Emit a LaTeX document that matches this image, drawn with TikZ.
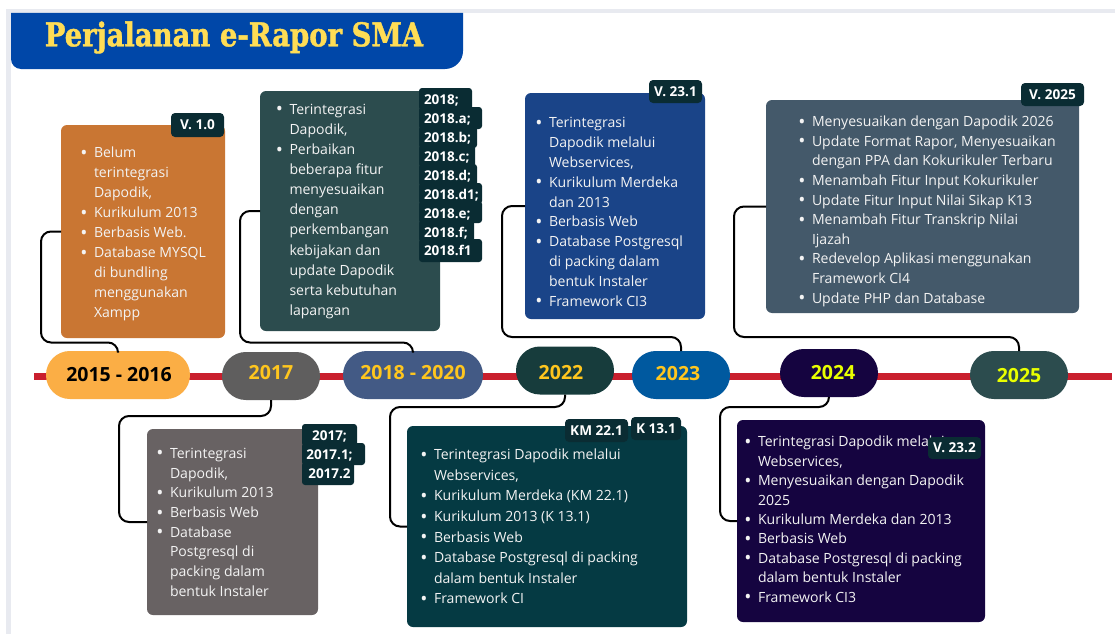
\documentclass[tikz,border=0pt]{standalone}
\usepackage{fontspec}
\setmainfont{Open Sans}
\newfontfamily\titlefont[FakeStretch=0.84,FakeBold=1.2]{DejaVu Serif Bold}
\definecolor{cbadge}{HTML}{0A2C33}
\definecolor{cbody}{HTML}{F3F3F3}
\definecolor{cred}{HTML}{C91F2E}
\definecolor{cstrip}{HTML}{E8EAF0}
\definecolor{cgold}{HTML}{FFC61E}
\definecolor{clime}{HTML}{E8FF00}
\definecolor{ctitle}{HTML}{0047A8}
\definecolor{ctitletxt}{HTML}{FFDD55}
\definecolor{corange}{HTML}{C97633}
\definecolor{cforest}{HTML}{2C4C4E}
\definecolor{cblue}{HTML}{1A4488}
\definecolor{cslate}{HTML}{44596A}
\definecolor{cgrey}{HTML}{686263}
\definecolor{cteal}{HTML}{053A43}
\definecolor{cpurple}{HTML}{150440}
\definecolor{pa}{HTML}{FBAE45}
\definecolor{pb}{HTML}{5F5E5E}
\definecolor{pc}{HTML}{435A85}
\definecolor{pd}{HTML}{173C3C}
\definecolor{pe}{HTML}{00599F}
\newcommand{\fs}[1]{\fontsize{14.05}{#1}\selectfont}
\tikzset{
  boxbody/.style={rounded corners=6pt,draw=none,inner sep=0pt,outer sep=0pt},
  body/.style={anchor=north west,align=left,inner sep=0pt,outer sep=0pt,text=cbody,font=\fs{#1}},
  pill/.style={rounded corners=23.9pt,draw=none,inner sep=0pt,outer sep=0pt,minimum height=48pt},
  ptext/.style={font=\fontsize{19.5}{22}\selectfont\bfseries,inner sep=0pt},
  badge/.style={fill=cbadge,rounded corners=4pt,inner sep=0pt,outer sep=0pt,text=white,font=\fontsize{13.6}{15}\selectfont\bfseries},
  rowtext/.style={inner sep=0pt,outer sep=0pt,text=white,font=\fontsize{13.5}{18.9}\selectfont\bfseries},
  conn/.style={draw=black,line width=2pt,rounded corners=10pt},
}
\newcommand{\itm}{\leavevmode\llap{\smash{\raisebox{-1.6pt}{\fontsize{19}{19}\selectfont\textbullet}}\hspace{6.5pt}}}
\newcommand{\mkbox}[6]{\node[boxbody,fill=#2,minimum width=#5 pt,minimum height=#6 pt] (#1) at (#3,#4) {};}
\newcommand{\mkpill}[9]{\node[pill,fill=#2,minimum width=#5 pt] (#1) at (#3,#4) {};
  \node[ptext,text=#6] (#1t) at (#7,#8) {#9};}
\begin{document}
\begin{tikzpicture}[x=1pt,y=-1pt]
\useasboundingbox (0,0) rectangle (1115,634);
\fill[white] (0,0) rectangle (1115,634);
\fill[cstrip] (6,9) rectangle (1115,13);
\fill[cstrip] (6,9) rectangle (11,634);
% title
\fill[ctitle] (11,13) -- (463,13) -- (463,51) arc[start angle=0,end angle=90,radius=18] -- (21,69) arc[start angle=90,end angle=180,radius=10] -- cycle;
\node[inner sep=0pt,text=ctitletxt,font=\titlefont\fontsize{32.7}{36}\selectfont] (title) at (234,37.5) {Perjalanan e-Rapor SMA};
% red line
\fill[cred] (34,372.5) rectangle (1112,379.5);
% boxes
\mkbox{b15}{corange}{143}{231.5}{164}{213}
\mkbox{b18}{cforest}{350}{211}{180}{240}
\mkbox{b23}{cblue}{615}{206}{180}{226}
\mkbox{b25}{cslate}{922.5}{206.5}{313}{213}
\mkbox{b17}{cgrey}{232.5}{522}{171}{186}
\mkbox{b22}{cteal}{547}{526.5}{280}{201}
\mkbox{b24}{cpurple}{861}{521}{248}{202}
% pills
\mkpill{p15}{pa}{118}{375}{144}{black}{119}{375}{2015 - 2016}
\mkpill{p17}{pb}{271}{376}{98}{cgold}{271}{373}{2017}
\mkpill{p18}{pc}{413}{375}{140}{cgold}{413}{373}{2018 - 2020}
\mkpill{p22}{pd}{565}{370.5}{98}{cgold}{561}{373}{2022}
\mkpill{p23}{pe}{681}{375}{98}{cgold}{678}{374}{2023}
\mkpill{p24}{cpurple}{829}{373}{98}{clime}{833}{373}{2024}
\mkpill{p25}{cforest}{1019}{375}{98}{clime}{1019}{376}{2025}
% connectors
\draw[conn] (p15.north) |- (41,342.5) |- (b15.west);
\draw[conn] (p17.south) |- (119,416) |- (b17.west);
\draw[conn] (p18.north) |- (240,342.5) |- (b18.west);
\draw[conn] (p22.south) |- (390,407) |- (b22.west);
\draw[conn] (p23.north) |- (502,337) |- (b23.west);
\draw[conn] (p24.south) |- (720,407) |- (b24.west);
\draw[conn] (p25.north) |- (734,337) |- (b25.west);
% texts
\node[body=20] (t15) at (94,147) {\itm Belum\\terintegrasi\\Dapodik,\\\itm Kurikulum 2013\\\itm Berbasis Web.\\\itm Database MYSQL\\di bundling\\menggunakan\\Xampp};
\node[body=20.1] (t18) at (289.5,104) {\itm Terintegrasi\\Dapodik,\\\itm Perbaikan\\beberapa fitur\\menyesuaikan\\dengan\\perkembangan\\kebijakan dan\\update Dapodik\\serta kebutuhan\\lapangan};
\node[body=19.8] (t23) at (549,117.5) {\itm Terintegrasi\\Dapodik melalui\\Webservices,\\\itm Kurikulum Merdeka\\dan 2013\\\itm Berbasis Web\\\itm Database Postgresql\\di packing dalam\\bentuk Instaler\\\itm Framework CI3};
\node[body=19.6] (t25) at (812,116) {\itm Menyesuaikan dengan Dapodik 2026\\\itm Update Format Rapor, Menyesuaikan\\dengan PPA dan Kokurikuler Terbaru\\\itm Menambah Fitur Input Kokurikuler\\\itm Update Fitur Input Nilai Sikap K13\\\itm Menambah Fitur Transkrip Nilai\\Ijazah\\\itm Redevelop Aplikasi menggunakan\\Framework CI4\\\itm Update PHP dan Database};
\node[body=19.7] (t17) at (170,448) {\itm Terintegrasi\\Dapodik,\\\itm Kurikulum 2013\\\itm Berbasis Web\\\itm Database\\Postgresql di\\packing dalam\\bentuk Instaler};
\node[body=20.6] (t22) at (434,449) {\itm Terintegrasi Dapodik melalui\\Webservices,\\\itm Kurikulum Merdeka (KM 22.1)\\\itm Kurikulum 2013 (K 13.1)\\\itm Berbasis Web\\\itm Database Postgresql di packing\\dalam bentuk Instaler\\\itm Framework CI};
\node[body=19.45] (t24) at (758,436) {\itm Terintegrasi Dapodik melalui\\Webservices,\\\itm Menyesuaikan dengan Dapodik\\2025\\\itm Kurikulum Merdeka dan 2013\\\itm Berbasis Web\\\itm Database Postgresql di packing\\dalam bentuk Instaler\\\itm Framework CI3};
% badges
\node[badge,minimum width=53pt,minimum height=24pt] (v10) at (197.5,125) {V. 1.0};
\node[badge,minimum width=53pt,minimum height=23pt] (v231) at (675.5,91.5) {V. 23.1};
\node[badge,minimum width=63pt,minimum height=23pt] (v2025) at (1052.5,94.5) {V. 2025};
\node[badge,minimum width=53pt,minimum height=22pt] (v232) at (954.5,448) {V. 23.2};
\node[badge,minimum width=63pt,minimum height=23pt] (km) at (596.5,430.5) {KM 22.1};
\node[badge,minimum width=50pt,minimum height=23pt] (k13) at (656,428.5) {K 13.1};
% stepped badges
\fill[cbadge,rounded corners=3pt] (302,424) rectangle (357,446);
\fill[cbadge,rounded corners=3pt] (302,443) rectangle (365,465);
\fill[cbadge,rounded corners=3pt] (302,462) rectangle (354,485);
\node[rowtext,align=center] (l17) at (329.5,455) {2017;\\2017.1;\\2017.2};
\fill[cbadge,rounded corners=3pt] (419,88) rectangle (472,110);
\fill[cbadge,rounded corners=3pt] (419,107) rectangle (482,129);
\fill[cbadge,rounded corners=3pt] (419,126) rectangle (477,148);
\fill[cbadge,rounded corners=3pt] (419,145) rectangle (475,167);
\fill[cbadge,rounded corners=3pt] (419,164) rectangle (477,186);
\fill[cbadge,rounded corners=3pt] (419,183) rectangle (482,204);
\fill[cbadge,rounded corners=3pt] (419,201) rectangle (482,223);
\fill[cbadge,rounded corners=3pt] (419,220) rectangle (474,242);
\fill[cbadge,rounded corners=3pt] (419,239) rectangle (482,262);
\node[rowtext,align=left,anchor=north west] (l18) at (424,95) {2018;\\2018.a;\\2018.b;\\2018.c;\\2018.d;\\2018.d1;\\2018.e;\\2018.f;\\2018.f1};
\end{tikzpicture}
\end{document}
